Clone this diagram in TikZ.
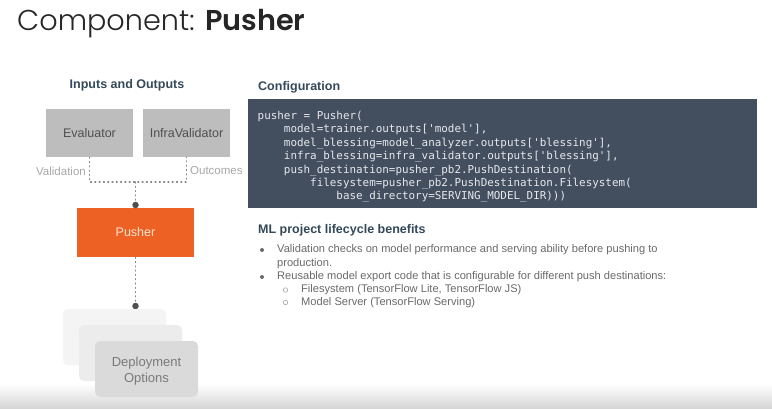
\documentclass[tikz,border=0pt]{standalone}
\usepackage{fontspec}
\setmainfont{Liberation Sans}
\setmonofont{DejaVu Sans Mono}
\newfontfamily\titlefont[UprightFont={* Light}, BoldFont={* SemiBold}]{Poppins}
\usetikzlibrary{shadings}

\definecolor{headteal}{HTML}{34495A}
\definecolor{boxgrey}{HTML}{BDBDBD}
\definecolor{boxtext}{HTML}{4F4F4F}
\definecolor{linkgrey}{HTML}{858585}
\definecolor{labelgrey}{HTML}{A8A8A8}
\definecolor{pushorange}{HTML}{EE6124}
\definecolor{pushtext}{HTML}{FDE3D2}
\definecolor{codebg}{HTML}{434E5F}
\definecolor{codefg}{HTML}{E6E9ED}
\definecolor{bodygrey}{HTML}{6A6A6A}
\definecolor{deployA}{HTML}{F4F4F4}
\definecolor{deployB}{HTML}{ECECEC}
\definecolor{deployC}{HTML}{DADADA}
\definecolor{deploytext}{HTML}{7A7A7A}

\tikzset{
  heading/.style={anchor=west, text=headteal, font=\bfseries\fontsize{12.5}{14}\selectfont, inner sep=0pt},
  compbox/.style={fill=boxgrey, draw=none, minimum width=87pt, minimum height=48pt, inner sep=0pt,
    text=boxtext, font=\fontsize{12.5}{14}\selectfont},
  pushbox/.style={fill=pushorange, draw=none, minimum width=117pt, minimum height=49pt, inner sep=0pt,
    text=pushtext, font=\fontsize{12.5}{14}\selectfont},
  deploybox/.style={draw=none, rounded corners=5pt, minimum width=103pt, minimum height=56pt, inner sep=0pt},
  link/.style={draw=linkgrey, line width=1.1pt, dash pattern=on 1pt off 3.3pt, line cap=round},
  joint/.style={circle, fill=boxtext, inner sep=0pt, minimum size=6.5pt},
  sidelabel/.style={text=labelgrey, font=\fontsize{11.5}{13}\selectfont, inner sep=0pt},
  bodytext/.style={anchor=west, text=bodygrey, font=\fontsize{11.1}{13}\selectfont, inner sep=0pt},
  dotmark/.style={circle, fill=bodygrey, inner sep=0pt, minimum size=4pt},
  ringmark/.style={circle, draw=labelgrey, line width=0.6pt, inner sep=0pt, minimum size=4.5pt},
}

\begin{document}
\begin{tikzpicture}[x=1pt,y=-1pt]
  \useasboundingbox (0,0) rectangle (772,408);
  \fill[white] (0,0) rectangle (772,408);
  % soft floor at the bottom edge
  \shade[top color=white, bottom color=black!16] (0,384) rectangle (772,408);

  % title
  \node[anchor=base west, inner sep=0pt, font=\titlefont\fontsize{28.7}{32}\selectfont, text=black!85] (title)
    at (17,30) {Component: \textbf{Pusher}};

  % left column: inputs and outputs
  \node[heading, anchor=center] (ioh) at (127,85) {Inputs and Outputs};
  \node[compbox] (eval) at (89.5,133) {Evaluator};
  \node[compbox] (infra) at (186.5,133) {InfraValidator};
  \node[pushbox] (pusher) at (135.5,232.5) {Pusher};

  \coordinate (jl) at (89.5,182);
  \coordinate (jr) at (186.5,182);
  \coordinate (jm) at (135.5,182);
  \node[joint] (jin) at (135.5,205) {};
  \node[joint] (jout) at (135.5,306) {};

  \draw[link] (eval.south) -- (jl) -- (jr) -- (infra.south);
  \draw[link] (jm) -- (jin);
  \draw[link] (pusher.south) -- (jout);

  \node[sidelabel, anchor=east] (vlab) at (86,171) {Validation};
  \node[sidelabel, anchor=west] (olab) at (190,171) {Outcomes};

  % stacked deployment targets
  \node[deploybox, fill=deployA] (dep3) at (114.5,337) {};
  \node[deploybox, fill=deployB] (dep2) at (130.5,353) {};
  \node[deploybox, fill=deployC] (dep1) at (146.5,369) {};
  \node[text=deploytext, align=center, inner sep=0pt,
        font=\fontsize{13}{16}\selectfont] (deplabel) at (146.5,371) {Deployment\\Options};

  % right column: configuration
  \node[heading] (cfgh) at (258,87) {Configuration};
  \fill[codebg] (248,99) rectangle (757,208);
  \node[anchor=north west, inner sep=0pt, text=codefg, align=left,
        font=\ttfamily\fontsize{10.9}{13.4}\selectfont] (code) at (257.5,111) {%
pusher = Pusher(\\
\hspace*{26.25pt}model=trainer.outputs['model'],\\
\hspace*{26.25pt}model\_blessing=model\_analyzer.outputs['blessing'],\\
\hspace*{26.25pt}infra\_blessing=infra\_validator.outputs['blessing'],\\
\hspace*{26.25pt}push\_destination=pusher\_pb2.PushDestination(\\
\hspace*{52.5pt}filesystem=pusher\_pb2.PushDestination.Filesystem(\\
\hspace*{78.75pt}base\_directory=SERVING\_MODEL\_DIR)))};

  % right column: benefits
  \node[heading] (mlh) at (258,230) {ML project lifecycle benefits};
  \node[dotmark] (b1) at (262,250) {};
  \node[bodytext] (t1a) at (277,250) {Validation checks on model performance and serving ability before pushing to};
  \node[bodytext] (t1b) at (277,263.5) {production.};
  \node[dotmark] (b2) at (262,277) {};
  \node[bodytext] (t2) at (277,277) {Reusable model export code that is configurable for different push destinations:};
  \node[ringmark] (s1) at (285.5,290) {};
  \node[bodytext] (t3) at (301,290) {Filesystem (TensorFlow Lite, TensorFlow JS)};
  \node[ringmark] (s2) at (285.5,302.5) {};
  \node[bodytext] (t4) at (301,302.5) {Model Server (TensorFlow Serving)};
\end{tikzpicture}
\end{document}
